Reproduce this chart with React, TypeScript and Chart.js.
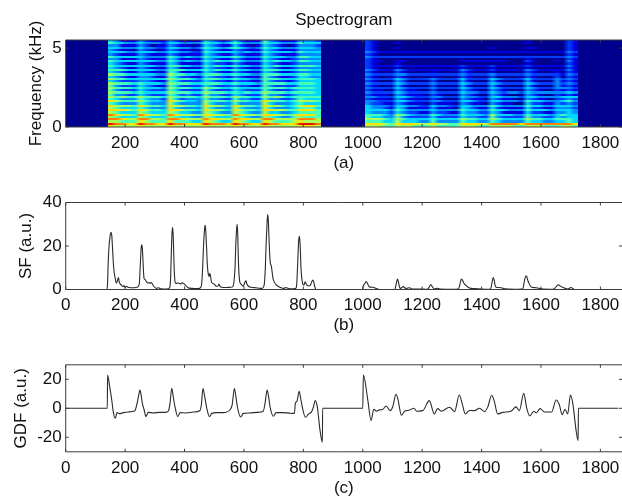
import React, { useEffect, useRef } from "react";
import { Chart, registerables } from "chart.js";

Chart.register(...registerables);

const FONT = "'Liberation Sans', Arial, sans-serif";
const FONT_SIZE = 17;
const X_MAX = 1872.7;

const SPEC_FREQ_MAX = 5.51;
const SPEC_A_RANGE = [143, 860];
const SPEC_B_RANGE = [1006, 1724];
const LEVEL_COLOURS = [
  [0, 0, 143], [0, 0, 225], [0, 60, 255], [0, 140, 255], [0, 215, 255],
  [70, 255, 185], [170, 255, 85], [255, 225, 0], [255, 125, 0], [225, 20, 0],
];

const SPEC_A = [
  "43111 32111 321101 43212 42111 53211 13332",
  "54433 43332 443333 54434 54333 54433 35444",
  "33111 32011 321101 43211 42101 43210 13332",
  "44333 43322 443323 54434 54323 54433 34443",
  "32110 32101 321101 43211 32111 43211 13333",
  "44433 44433 443322 54444 43433 54444 35444",
  "32111 32111 321111 43211 32111 43211 13333",
  "54444 43333 543433 54444 54333 54443 35544",
  "33111 32111 431111 43211 32111 43211 23333",
  "54444 44433 543433 54544 54333 54544 35544",
  "43211 32111 431111 43221 32111 43211 23333",
  "54444 44433 554433 54544 54433 54544 45554",
  "43211 32111 431111 43221 32111 43211 23333",
  "55544 44433 555444 54544 54433 55544 45544",
  "43211 32111 541111 43211 32111 43211 23333",
  "65544 44433 655443 55544 54433 55544 45544",
  "43211 33211 542211 43221 32111 53211 24433",
  "65544 44444 655543 55544 54433 55544 45554",
  "43222 33211 542222 43221 32211 53221 24444",
  "65554 54443 655544 55544 54443 55554 45554",
  "53222 43211 542222 43222 32211 53222 24444",
  "65554 54443 655544 65544 54444 55554 55554",
  "53222 43222 542222 53222 43222 53222 34444",
  "65554 54444 655544 65554 54544 65554 55554",
  "53322 43222 542322 53322 43222 53322 34444",
  "65655 65554 655554 65554 65544 65654 55555",
  "54333 54332 642333 53322 53322 53322 35444",
  "76555 65443 765443 65554 65544 76554 56665",
  "54333 54333 643333 64333 53333 64333 45444",
  "76665 76554 766554 76654 76554 76654 56775",
  "65444 54333 643333 64333 64333 64333 45554",
  "77765 76554 776554 76654 76554 77665 57775",
  "65444 65444 654433 65433 65433 64433 45555",
  "87665 87665 876665 77665 87665 77665 67775",
  "65444 65444 654433 65444 65433 65433 56555",
  "88766 88665 887666 87766 87766 88666 68886",
  "66555 76555 755544 76544 76544 76555 67666",
  "98877 98877 988777 98887 98877 98877 79998",
  "76666 76666 766666 76666 76666 76666 67776",
];

const SPEC_B = [
  "21000 000000 00000 00000 000000 10000 0021",
  "21000 100000 00000 00000 000000 10000 0021",
  "21000 000000 00000 00000 000000 00000 0021",
  "21000 100000 00000 00000 100000 11000 0021",
  "21000 000000 00000 00000 000000 00000 0021",
  "32111 111111 11111 11111 111111 11111 1132",
  "21000 000000 00000 00000 000000 00000 0021",
  "32222 222222 22222 22222 222222 22222 2232",
  "21000 000000 00000 00000 000000 10000 0021",
  "21100 110000 00000 11111 111000 21000 1031",
  "21000 100000 00000 00000 000000 10000 0021",
  "21111 211111 11111 21111 211111 21111 1131",
  "21000 100000 00000 10000 100000 10000 0021",
  "32111 321111 11111 32111 211111 32111 1131",
  "21000 210000 10000 21000 100000 21000 1021",
  "32222 332222 22222 32222 322222 32222 2132",
  "21000 210000 10000 21000 200000 21000 2021",
  "32222 432222 32222 42222 432222 42222 3232",
  "21000 320000 20000 31000 310000 31000 3121",
  "32222 432222 32222 43222 432222 43222 3232",
  "21000 310000 20000 31000 310000 31000 3121",
  "32222 432222 32222 43222 432222 43222 3332",
  "21100 321100 20000 32100 321000 32100 2121",
  "32222 432222 32222 43322 432332 43333 3343",
  "21110 321110 21000 32100 321000 32100 2121",
  "33222 443222 33222 43322 443332 44333 3444",
  "21110 321110 21000 32110 321100 32110 2232",
  "33222 443222 33222 44322 443332 54433 3453",
  "32211 321110 21110 32110 321100 42211 3232",
  "43332 443322 43322 44333 543333 54433 4443",
  "43321 431111 31110 43211 421111 42211 3332",
  "44443 543333 43333 54433 544333 54443 4443",
  "43332 432211 32211 43322 431111 42211 3343",
  "55543 654333 54333 54443 644433 54443 4544",
  "54433 532222 42222 43322 532222 53322 4344",
  "66654 654444 54444 65544 654444 65544 5554",
  "55544 644433 53333 54433 543333 54433 4454",
  "77765 777766 76655 77776 888887 88888 8887",
  "66655 666555 65555 66655 666655 66655 5665",
];

const SF_X = [0, 139, 141, 143, 146, 149, 152, 155, 158, 161, 164, 167, 170, 173, 176, 178, 180, 184, 188, 192, 196, 200, 205, 210, 220, 230, 240, 245, 248, 250, 252, 254, 256, 258, 260, 262, 264, 268, 272, 276, 280, 284, 288, 292, 296, 300, 306, 312, 320, 340, 350, 353, 355, 357, 359, 361, 363, 365, 367, 369, 373, 378, 384, 388, 392, 396, 400, 406, 412, 425, 445, 455, 458, 461, 464, 467, 469, 471, 474, 477, 480, 483, 485, 487, 490, 493, 500, 507, 512, 516, 519, 525, 540, 555, 562, 566, 570, 573, 575, 577, 579, 581, 583, 586, 590, 594, 598, 601, 604, 607, 610, 615, 625, 640, 655, 662, 666, 669, 672, 675, 678, 680, 682, 684, 686, 689, 692, 695, 698, 702, 708, 715, 725, 735, 740, 750, 760, 772, 776, 778, 781, 784, 786, 788, 790, 792, 795, 798, 802, 806, 809, 812, 818, 824, 828, 832, 835, 838, 843, 999, 1001, 1003, 1007, 1012, 1016, 1022, 1034, 1045, 1056, 1100, 1108, 1111, 1114, 1117, 1120, 1123, 1126, 1131, 1137, 1142, 1148, 1157, 1168, 1185, 1212, 1219, 1224, 1229, 1234, 1241, 1252, 1262, 1300, 1321, 1325, 1329, 1332, 1336, 1340, 1348, 1359, 1376, 1400, 1425, 1430, 1433, 1436, 1439, 1442, 1445, 1449, 1457, 1466, 1480, 1525, 1539, 1542, 1545, 1549, 1552, 1555, 1559, 1567, 1584, 1600, 1640, 1647, 1653, 1658, 1663, 1670, 1677, 1690, 1701, 1713, 1718];
const SF_Y = [0, 0, 3, 12, 20, 24, 26.3, 25, 18, 11, 7, 5, 3, 3.6, 5, 5.5, 3.5, 2.5, 2, 1.3, 1.8, 1, 1.5, 1, 0.8, 0.8, 1, 1.5, 3, 8, 14, 19, 20.5, 19, 14, 8, 5, 4.5, 3.5, 3, 3.2, 2.8, 3.2, 2.5, 1.5, 1, 0.5, 0.8, 0.3, 0.2, 0.8, 5, 14, 23, 28.5, 27, 20, 10, 5, 3, 2.8, 3, 2.8, 2.5, 3.2, 2.8, 2.5, 1.5, 0.8, 0.5, 0.4, 1, 3, 10, 20, 27, 29.5, 28, 20, 11, 7, 6, 7.5, 6.5, 4, 3, 2.5, 1.5, 1.5, 2.5, 1.5, 1, 0.9, 1, 1.2, 3, 10, 22, 27, 30, 26, 15, 8, 3.5, 2.5, 2, 1.5, 2.5, 3.5, 4, 2.5, 1.5, 1, 0.8, 0.5, 0.6, 1.2, 3, 10, 22, 31, 34.5, 32, 25, 18, 12, 11, 8, 5, 3.5, 2.2, 1.5, 0.8, 0.5, 0.9, 0.4, 0.3, 0.4, 0.8, 3, 12, 22, 24.5, 23, 18, 10, 5, 2.5, 2, 3.5, 2.8, 2, 1.6, 2, 3.5, 4.3, 3.5, 1.5, 0, 0, 1.2, 2, 2.8, 3.7, 2.8, 1.2, 1, 0.5, 0, 0, 0, 1.5, 3.5, 4.8, 3.5, 1.5, 0.5, 0.8, 1.3, 0.7, 0.5, 0.8, 0.2, 0.2, 0.1, 0.2, 1.2, 2.3, 1.3, 0.2, 0.6, 0.2, 0.1, 0.2, 1.2, 3.5, 4.8, 4.2, 3, 1.8, 0.7, 0.4, 0.2, 0.1, 0.3, 1.5, 3.8, 5.5, 4.5, 2.2, 1, 0.9, 0.8, 0.3, 0.1, 0.3, 2.2, 4.5, 6.3, 6, 4.5, 3, 1.2, 0.8, 0.3, 0.1, 0.6, 1.6, 2.2, 1.8, 1.2, 0.8, 0.2, 0.9, 0, 0];

const GDF_X = [0, 140, 141, 148, 155, 160, 167, 173, 181, 194, 211, 233, 239, 245, 250, 254, 258, 264, 270, 278, 295, 315, 335, 346, 351, 357, 362, 368, 377, 385, 405, 430, 452, 457, 462, 468, 475, 484, 492, 510, 530, 553, 560, 568, 573, 578, 589, 598, 620, 645, 665, 671, 678, 683, 688, 699, 708, 730, 752, 770, 773, 778, 786, 790, 795, 807, 817, 828, 834, 840, 847, 856, 864, 865, 1000, 1002, 1017, 1028, 1037, 1047, 1056, 1067, 1079, 1092, 1101, 1112, 1119, 1130, 1141, 1155, 1172, 1182, 1202, 1224, 1241, 1252, 1264, 1292, 1309, 1325, 1335, 1345, 1359, 1376, 1393, 1410, 1421, 1434, 1443, 1454, 1471, 1499, 1516, 1527, 1542, 1552, 1562, 1576, 1584, 1597, 1612, 1636, 1651, 1662, 1671, 1681, 1690, 1699, 1707, 1718, 1725, 1726, 1860];
const GDF_Y = [0, 0, 23, 15, 5.7, -2.3, -6.9, -3, -3.7, -3, -2.5, -1.7, 2.3, 8, 12.6, 9, 3.4, -1, -5.7, -2.8, -3.2, -2.8, -2.8, -1.8, 3, 13.8, 8, 1, -5.7, -3, -3.2, -2.6, -1.5, 3, 13.6, 8, 0, -5.7, -3.5, -3, -3, -1, 2, 13.6, 8, 1, -6, -3.5, -3.2, -2.8, -2, 3.4, 12.6, 8, 1, -5.5, -3, -3, -3.3, -3.5, 3.4, 4.6, 11.7, 8, 2.3, -6.2, -4, -2.3, 1, 5.3, 1, -15, -23.4, 0, 0, 23, 5.7, -8.5, -0.7, -2, -1.1, -0.8, 1.6, -1.6, 1.1, 9.7, 5.7, -4.8, -2, -1.4, 0, -2, -1.6, 5.3, -3.9, -0.2, -2, 0.7, -2.3, 9.2, 3, -3.9, -1.5, -1.6, 0, -2.3, 1, 9, 4.6, -3.9, -2.8, -2, 1, -1.6, 10.3, 0, -5.3, -2, -3.2, -0.2, -2.5, -2.5, 5.7, 2.3, -4.4, -0.7, -3.9, 9.2, 3.4, -15, -22.3, 0, 0];

const TEXT = "#111";
const FRAME = "rgb(60,60,60)";

function zip(xs: number[], ys: number[]) {
  return xs.map((x, i) => ({ x, y: ys[i] }));
}

function cells(rows: string[], range: number[]) {
  const clean = rows.map((r) => r.replace(/ /g, ""));
  const nr = clean.length;
  const out: any[] = [];
  clean.forEach((row, r) => {
    const nc = row.length;
    for (let c = 0; c < nc; c++) {
      out.push({
        x: range[0] + ((c + 0.5) / nc) * (range[1] - range[0]),
        y: SPEC_FREQ_MAX * (1 - (r + 0.5) / nr),
        v: Number(row[c]),
        c,
        r,
      });
    }
  });
  return out;
}

const heatPlugin = {
  id: "heat",
  beforeDatasetsDraw(chart: any) {
    const { ctx, chartArea: a, scales } = chart;
    ctx.save();
    ctx.fillStyle = "rgb(0,0,143)";
    ctx.fillRect(a.left, a.top, a.right - a.left, a.bottom - a.top);
    chart.data.datasets.forEach((ds: any) => {
      const nc = Math.max(...ds.data.map((d: any) => d.c)) + 1;
      const nr = Math.max(...ds.data.map((d: any) => d.r)) + 1;
      const off = document.createElement("canvas");
      off.width = nc;
      off.height = nr;
      const o = off.getContext("2d") as CanvasRenderingContext2D;
      const img = o.createImageData(nc, nr);
      ds.data.forEach((d: any) => {
        const i = (d.r * nc + d.c) * 4;
        const col = LEVEL_COLOURS[d.v];
        img.data[i] = col[0];
        img.data[i + 1] = col[1];
        img.data[i + 2] = col[2];
        img.data[i + 3] = 255;
      });
      o.putImageData(img, 0, 0);
      const x0 = scales.x.getPixelForValue(ds.range[0]);
      const x1 = scales.x.getPixelForValue(ds.range[1]);
      const y0 = scales.y.getPixelForValue(SPEC_FREQ_MAX);
      const y1 = scales.y.getPixelForValue(0);
      // smooth along time only, so the harmonic rows stay crisp
      const wide = document.createElement("canvas");
      wide.width = Math.round(x1 - x0);
      wide.height = nr;
      const w = wide.getContext("2d") as CanvasRenderingContext2D;
      w.imageSmoothingEnabled = true;
      w.imageSmoothingQuality = "high";
      for (let r = 0; r < nr; r++) {
        w.drawImage(off, 0, r, nc, 1, 0, r, wide.width, 1);
      }
      ctx.imageSmoothingEnabled = false;
      ctx.drawImage(wide, x0, y0, x1 - x0, y1 - y0);
    });
    ctx.restore();
  },
};

const framePlugin = {
  id: "frame",
  afterDatasetsDraw(chart: any) {
    const { ctx, chartArea: a, scales } = chart;
    const T = 3;
    ctx.save();
    ctx.strokeStyle = FRAME;
    ctx.lineWidth = 1;
    ctx.beginPath();
    ctx.moveTo(a.right, a.top);
    ctx.lineTo(a.left, a.top);
    ctx.lineTo(a.left, a.bottom);
    ctx.lineTo(a.right, a.bottom);
    scales.x.ticks.forEach((t: any) => {
      const p = scales.x.getPixelForValue(t.value);
      ctx.moveTo(p, a.bottom);
      ctx.lineTo(p, a.bottom - T);
      ctx.moveTo(p, a.top);
      ctx.lineTo(p, a.top + T);
    });
    scales.y.ticks.forEach((t: any) => {
      const p = scales.y.getPixelForValue(t.value);
      ctx.moveTo(a.left, p);
      ctx.lineTo(a.left + T, p);
      ctx.moveTo(a.right, p);
      ctx.lineTo(a.right - T, p);
    });
    ctx.stroke();
    ctx.restore();
  },
};

const plainLabel = (v: any) => String(v);

function panelOptions(p: any) {
  return {
    responsive: false,
    animation: false,
    events: [],
    layout: { padding: { top: p.paddingTop, left: 0, right: 0, bottom: 0 } },
    plugins: {
      legend: { display: false },
      tooltip: { enabled: false },
      title: p.title
        ? {
            display: true,
            text: p.title,
            color: TEXT,
            fullSize: false,
            font: { family: FONT, size: FONT_SIZE, weight: "normal", lineHeight: 1.2 },
            padding: { top: 10.2, bottom: 9.4 },
          }
        : { display: false },
    },
    scales: {
      x: {
        type: "linear",
        min: 0,
        max: X_MAX,
        grid: { display: false, drawTicks: false },
        border: { display: false },
        afterFit(s: any) {
          s.height = p.xBox;
          s.paddingLeft = 0;
          s.paddingRight = 0;
        },
        afterBuildTicks(s: any) {
          s.ticks = p.xTicks.map((value: number) => ({ value }));
        },
        ticks: {
          includeBounds: false,
          autoSkip: false,
          maxRotation: 0,
          padding: 6,
          color: TEXT,
          font: { family: FONT, size: FONT_SIZE },
          callback: plainLabel,
        },
        title: {
          display: true,
          text: p.xTitle,
          color: TEXT,
          font: { family: FONT, size: FONT_SIZE, lineHeight: 1.2 },
          padding: { top: 0, bottom: p.xTitlePad },
        },
      },
      y: {
        type: "linear",
        min: p.yMin,
        max: p.yMax,
        grid: { display: false, drawTicks: false },
        border: { display: false },
        afterFit(s: any) {
          s.width = 65.7;
        },
        afterBuildTicks(s: any) {
          s.ticks = p.yTicks.map((value: number) => ({ value }));
        },
        ticks: {
          includeBounds: false,
          autoSkip: false,
          padding: 4,
          color: TEXT,
          font: { family: FONT, size: FONT_SIZE },
          callback: plainLabel,
        },
        title: {
          display: true,
          text: p.yTitle,
          color: TEXT,
          font: { family: FONT, size: FONT_SIZE, lineHeight: 1.2 },
          padding: { top: p.yTitlePad, bottom: 0 },
        },
      },
    },
  };
}

const X_TICKS_ALL = [0, 200, 400, 600, 800, 1000, 1200, 1400, 1600, 1800];
const X_TICKS_SPEC = [200, 400, 600, 800, 1000, 1200, 1400, 1600, 1800];
const Y_TICKS_SPEC = [0, 5];
const Y_TICKS_SF = [0, 20, 40];
const Y_TICKS_GDF = [-20, 0, 20];

const PANELS = [
  {
    top: 0,
    height: 180,
    paddingTop: 0,
    title: "Spectrogram",
    xBox: 53,
    xTitle: "(a)",
    xTitlePad: 6.8,
    yTitle: "Frequency (kHz)",
    yTitlePad: 26.5,
    yMin: 0,
    yMax: SPEC_FREQ_MAX,
    yTicks: Y_TICKS_SPEC,
    xTicks: X_TICKS_SPEC,
  },
  {
    top: 180,
    height: 160,
    paddingTop: 22.5,
    xBox: 50.5,
    xTitle: "(b)",
    xTitlePad: 4.1,
    yTitle: "SF (a.u.)",
    yTitlePad: 16,
    yMin: 0,
    yMax: 40,
    yTicks: Y_TICKS_SF,
    xTicks: X_TICKS_ALL,
  },
  {
    top: 340,
    height: 160,
    paddingTop: 24.8,
    xBox: 48.2,
    xTitle: "(c)",
    xTitlePad: 1.8,
    yTitle: "GDF (a.u.)",
    yTitlePad: 11,
    yMin: -30,
    yMax: 30,
    yTicks: Y_TICKS_GDF,
    xTicks: X_TICKS_ALL,
  },
];

function lineDataset(xs: number[], ys: number[]) {
  return {
    data: zip(xs, ys),
    showLine: true,
    pointRadius: 0,
    borderColor: "#2a2a2a",
    borderWidth: 1.1,
    cubicInterpolationMode: "monotone",
  };
}

function Panel({ index }: { index: number }) {
  const ref = useRef<HTMLCanvasElement | null>(null);
  const p = PANELS[index];
  useEffect(() => {
    const datasets: any[] =
      index === 0
        ? [
            { data: cells(SPEC_A, SPEC_A_RANGE), range: SPEC_A_RANGE, pointRadius: 0, showLine: false },
            { data: cells(SPEC_B, SPEC_B_RANGE), range: SPEC_B_RANGE, pointRadius: 0, showLine: false },
          ]
        : index === 1
        ? [lineDataset(SF_X, SF_Y)]
        : [lineDataset(GDF_X, GDF_Y)];
    const chart = new Chart(ref.current as HTMLCanvasElement, {
      type: "scatter",
      data: { datasets },
      options: panelOptions(p) as any,
      plugins: index === 0 ? [heatPlugin, framePlugin] : [framePlugin],
    });
    return () => chart.destroy();
  }, [index]);
  return (
    <canvas
      ref={ref}
      width={622}
      height={p.height}
      style={{ position: "absolute", left: 0, top: p.top, width: 622, height: p.height }}
    />
  );
}

export default function App() {
  return (
    <div
      style={{
        position: "fixed",
        left: 0,
        top: 0,
        width: 622,
        height: 497,
        overflow: "hidden",
        background: "#fff",
      }}
    >
      {PANELS.map((_, i) => (
        <Panel key={i} index={i} />
      ))}
    </div>
  );
}
